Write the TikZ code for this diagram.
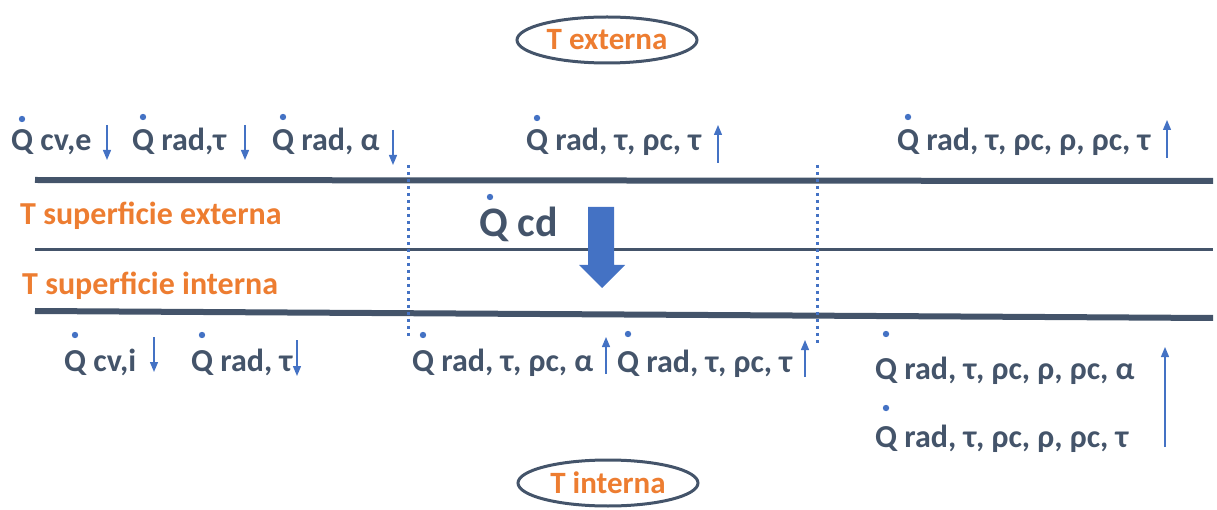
\documentclass[tikz,border=0pt]{standalone}
\usepackage{fontspec}
\setmainfont{Carlito}
\usetikzlibrary{arrows.meta, calc, positioning, shapes.geometric}
\definecolor{slate}{HTML}{44546A}
\definecolor{accent}{HTML}{ED7D31}
\definecolor{flowblue}{HTML}{4472C4}
\newcommand{\fluxdot}[2]{\fill[flowblue] ([xshift=11pt,yshift=#2]#1.base west) circle (3.2pt);}

\begin{document}
\begin{tikzpicture}[x=1pt, y=-1pt,
    flux/.style={anchor=base west, inner sep=0pt, text=slate, font=\bfseries\fontsize{32}{32}\selectfont},
    surf/.style={anchor=base west, inner sep=0pt, text=accent, font=\bfseries\fontsize{32}{32}\selectfont},
    temp/.style={ellipse, draw=slate, line width=3pt, minimum width=180pt, minimum height=46pt, inner sep=0pt, text=accent, font=\bfseries\fontsize{31}{31}\selectfont},
    wall/.style={draw=slate, line width=6pt},
    layer/.style={draw=slate, line width=3pt},
    cut/.style={draw=flowblue, line width=3pt, dash pattern=on 3pt off 4pt},
    flow/.style={draw=flowblue, line width=1.3pt, -{Triangle[width=8pt,length=10pt]}}
]
    \useasboundingbox (0,0) rectangle (1217,510);

    % temperaturas
    \node[temp] (ext) at (607,40) {T externa};
    \node[temp] (int) at (608,483) {T interna};

    % pared
    \draw[wall] (35,180) -- (1213,181);
    \draw[layer] (35,250) -- (1213,250);
    \draw[wall] (35,311) -- (1213,318);
    \draw[cut] (408,165) -- (408,338);
    \draw[cut] (817,165) -- (817,345);

    \node[surf] (sext) at (20,225) {T superficie externa};
    \node[surf] (sint) at (22,295) {T superficie interna};

    % conduccion
    \node[flux, font=\bfseries\fontsize{42}{42}\selectfont] (qcd) at (479,237) {Q cd};
    \fluxdot{qcd}{40pt}
    \fill[flowblue] (588,207) -- (614,207) -- (614,265) -- (625,265) -- (602,288)
        -- (579,265) -- (588,265) -- cycle;

    % flujos externos
    \node[flux] (qcve) at (11,151) {Q cv,e};
    \node[flux] (qradtau) at (132,151) {Q rad,τ};
    \node[flux] (qradalpha) at (272,151) {Q rad, α};
    \node[flux] (qtop) at (526,151) {Q rad, τ, ρc, τ};
    \node[flux] (qtopright) at (897,151) {Q rad, τ, ρc, ρ, ρc, τ};
    \fluxdot{qcve}{32pt}
    \fluxdot{qradtau}{34pt}
    \fluxdot{qradalpha}{34pt}
    \fluxdot{qtop}{33pt}
    \fluxdot{qtopright}{34pt}
    \draw[flow] (107,125) -- (107,160);
    \draw[flow] (245,125) -- (245,160);
    \draw[flow] (393,130) -- (393,165);
    \draw[flow] (718,163) -- (718,125);
    \draw[flow] (1167,158) -- (1167,120);

    % flujos internos
    \node[flux] (qcvi) at (64,371) {Q cv,i};
    \node[flux] (qradtaub) at (191,371) {Q rad, τ};
    \node[flux] (qmida) at (412,371) {Q rad, τ, ρc, α};
    \node[flux] (qmidb) at (617,372) {Q rad, τ, ρc, τ};
    \node[flux] (qra) at (875,379) {Q rad, τ, ρc, ρ, ρc, α};
    \node[flux] (qrb) at (875,447) {Q rad, τ, ρc, ρ, ρc, τ};
    \fluxdot{qcvi}{36pt}
    \fluxdot{qradtaub}{36pt}
    \fluxdot{qmida}{36pt}
    \fluxdot{qmidb}{38pt}
    \fluxdot{qra}{45pt}
    \fluxdot{qrb}{39pt}
    \draw[flow] (154,337) -- (154,372);
    \draw[flow] (297,340) -- (297,376);
    \draw[flow] (606,374) -- (606,337);
    \draw[flow] (805,377) -- (805,340);
    \draw[flow] (1165,447) -- (1165,347);
\end{tikzpicture}
\end{document}
